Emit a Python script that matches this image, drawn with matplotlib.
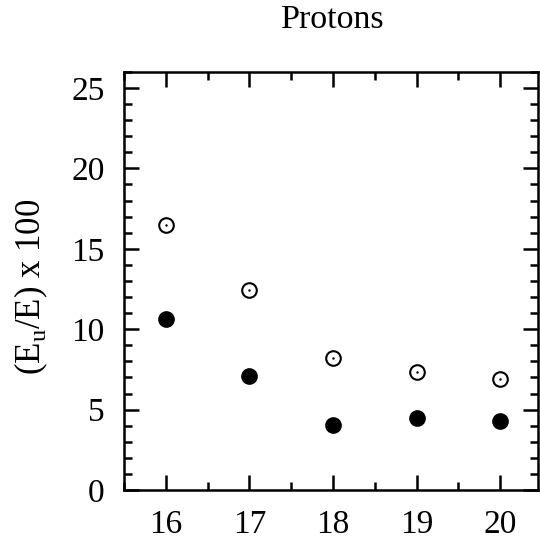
import matplotlib
matplotlib.use('Agg')
import matplotlib.pyplot as plt
from matplotlib.ticker import MultipleLocator

# values
energy = [16, 17, 18, 19, 20]
open_vals = [16.45, 12.42, 8.22, 7.31, 6.90]
filled_vals = [10.64, 7.06, 4.05, 4.49, 4.26]

plt.rcParams['font.family'] = ['Liberation Serif', 'DejaVu Serif']
plt.rcParams['mathtext.fontset'] = 'custom'
plt.rcParams['mathtext.rm'] = 'Liberation Serif'

fig = plt.figure(figsize=(5.4, 5.41), dpi=100)
ax = fig.add_axes([0.2296, 0.0943, 0.7664, 0.7727])

# open circles with a small dot in the middle
ax.plot(energy, open_vals, 'o', ms=10.5, mfc='white', mec='black', mew=1.5, ls='none')
ax.plot(energy, open_vals, '.', ms=1.5, color='black', ls='none')
# filled circles
ax.plot(energy, filled_vals, 'o', ms=11, color='black', ls='none')

ax.set_xlim(15.5, 20.45)
ax.set_ylim(0, 26)
ax.xaxis.set_major_locator(MultipleLocator(1))
ax.xaxis.set_minor_locator(MultipleLocator(0.5))
ax.yaxis.set_major_locator(MultipleLocator(5))
ax.yaxis.set_minor_locator(MultipleLocator(1))

for s in ax.spines.values():
    s.set_linewidth(1.8)
ax.tick_params(which='both', direction='in', top=True, right=True, width=1.8, labelsize=24)
ax.tick_params(which='major', length=11, pad=14)
ax.tick_params(which='minor', length=6)

fig.text(0.616, 0.963, 'Protons', ha='center', va='center', fontsize=24.5)
fig.text(0.058, 0.469, r'(E$_{\mathrm{u}}$/E) x 100', rotation=90, ha='center', va='center', fontsize=25)

fig.savefig('out.png', dpi=100)
